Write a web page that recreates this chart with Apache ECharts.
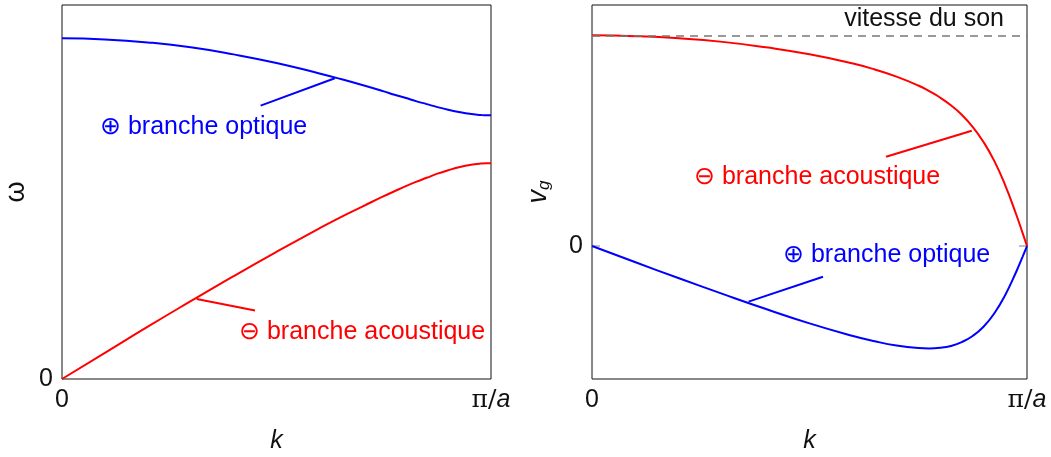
<!DOCTYPE html>
<html>
<head>
<meta charset="utf-8">
<script src="https://cdn.jsdelivr.net/npm/echarts@6/dist/echarts.min.js"></script>
<style>
  html, body { margin: 0; padding: 0; background: #fff; }
  #chart { width: 1051px; height: 457px; }
</style>
</head>
<body>
<div id="chart"></div>
<script>
// k en fraction de pi/a
const kVals = [0, 0.1, 0.2, 0.3, 0.4, 0.5, 0.6, 0.65, 0.7, 0.75, 0.775, 0.8, 0.825, 0.85, 0.875, 0.9, 0.925, 0.95, 0.975, 0.99, 1];
// pulsation (normalisée au haut du cadre)
const omegaOpt = [0.911, 0.908, 0.900, 0.887, 0.868, 0.845, 0.817, 0.802, 0.786, 0.769, 0.760, 0.752, 0.743, 0.735, 0.727, 0.720, 0.714, 0.709, 0.706, 0.705, 0.705];
const omegaAc = [0, 0.070, 0.140, 0.208, 0.275, 0.340, 0.403, 0.433, 0.461, 0.489, 0.502, 0.515, 0.527, 0.538, 0.549, 0.558, 0.566, 0.572, 0.576, 0.577, 0.577];
// vitesse de groupe (normalisée à la vitesse du son)
const vgAc = [1, 0.996, 0.986, 0.969, 0.943, 0.910, 0.866, 0.838, 0.804, 0.762, 0.735, 0.705, 0.668, 0.623, 0.566, 0.494, 0.403, 0.288, 0.151, 0.061, 0];
const vgOpt = [0, -0.077, -0.153, -0.227, -0.299, -0.367, -0.427, -0.452, -0.472, -0.484, -0.486, -0.483, -0.474, -0.456, -0.427, -0.383, -0.319, -0.232, -0.123, -0.050, 0];
const soundSpeed = 1;

const FONT = '"Liberation Sans", Arial, sans-serif';
const BLUE = '#0000ff';
const RED = '#ff0000';
const FS = 25;

const pairs = (xs, ys) => xs.map((x, i) => [x, ys[i]]);

function leader(p, q, color) {
  return {
    symbol: 'none',
    silent: true,
    label: { show: false },
    lineStyle: { color: color, width: 2, type: 'solid' },
    data: [[{ coord: p }, { coord: q }]]
  };
}

const kLabel = {
  customValues: [0, 1],
  margin: 9,
  formatter: v => v === 0 ? '0' : '{p|π/}{a|a}',
  color: '#111',
  fontSize: FS,
  fontFamily: FONT,
  rich: {
    p: { fontSize: FS, fontFamily: '"DejaVu Serif", serif', color: '#111' },
    a: { fontSize: FS, fontStyle: 'italic', fontFamily: FONT, color: '#111' }
  }
};

const myChart = echarts.init(document.getElementById('chart'));
const option = {
  animation: false,
  grid: [
    { left: 62, top: 5, width: 429, height: 374, show: true, borderColor: '#111', borderWidth: 1, outerBoundsMode: 'none' },
    { left: 592, top: 5, width: 435, height: 374, show: true, borderColor: '#111', borderWidth: 1, outerBoundsMode: 'none' }
  ],
  xAxis: [
    {
      gridIndex: 0, type: 'value', min: 0, max: 1,
      name: 'k', nameLocation: 'middle', nameGap: 50,
      nameTextStyle: { fontSize: FS, fontStyle: 'italic', fontFamily: FONT, color: '#111' },
      axisLine: { show: false }, axisTick: { show: false }, splitLine: { show: false },
      axisLabel: kLabel
    },
    {
      gridIndex: 1, type: 'value', min: 0, max: 1,
      name: 'k', nameLocation: 'middle', nameGap: 50,
      nameTextStyle: { fontSize: FS, fontStyle: 'italic', fontFamily: FONT, color: '#111' },
      axisLine: { show: false }, axisTick: { show: false }, splitLine: { show: false },
      axisLabel: kLabel
    }
  ],
  yAxis: [
    {
      gridIndex: 0, type: 'value', min: 0, max: 1,
      name: 'ω', nameLocation: 'middle', nameGap: 32, nameRotate: 90,
      nameTextStyle: { fontSize: 27, fontFamily: FONT, color: '#111' },
      axisLine: { show: false }, axisTick: { show: false }, splitLine: { show: false },
      axisLabel: { customValues: [0], margin: 9, fontSize: FS, fontFamily: FONT, color: '#111' }
    },
    {
      gridIndex: 1, type: 'value', min: -0.631, max: 1.144,
      name: '{v|v}{g|g}', nameLocation: 'middle', nameGap: 39, nameRotate: 90,
      nameTextStyle: {
        color: '#111',
        rich: {
          v: { fontSize: 27, fontStyle: 'italic', fontFamily: FONT, color: '#111' },
          g: { fontSize: 17, fontStyle: 'italic', fontFamily: FONT, color: '#111', padding: [12, 0, 0, 0] }
        }
      },
      axisLine: { show: false }, splitLine: { show: false },
      axisTick: { show: true, inside: true, length: 8, customValues: [0], lineStyle: { color: '#aaa', width: 1.5 } },
      axisLabel: { customValues: [0], margin: 9, fontSize: FS, fontFamily: FONT, color: '#111' }
    },
    {
      gridIndex: 1, type: 'value', min: -0.631, max: 1.144, position: 'right',
      axisLine: { show: false }, splitLine: { show: false },
      axisTick: { show: true, inside: true, length: 8, customValues: [0], lineStyle: { color: '#aaa', width: 1.5 } },
      axisLabel: { show: false }
    }
  ],
  series: [
    {
      name: 'optique', type: 'line', xAxisIndex: 0, yAxisIndex: 0,
      data: pairs(kVals, omegaOpt), smooth: true, showSymbol: false,
      lineStyle: { color: BLUE, width: 2 },
      markLine: leader([0.463, 0.731], [0.636, 0.804], BLUE)
    },
    {
      name: 'acoustique', type: 'line', xAxisIndex: 0, yAxisIndex: 0,
      data: pairs(kVals, omegaAc), smooth: true, showSymbol: false,
      lineStyle: { color: RED, width: 2 },
      markLine: leader([0.314, 0.214], [0.450, 0.183], RED)
    },
    {
      name: 'vg acoustique', type: 'line', xAxisIndex: 1, yAxisIndex: 1,
      data: pairs(kVals, vgAc), smooth: true, showSymbol: false, z: 3,
      lineStyle: { color: RED, width: 2 },
      markLine: leader([0.676, 0.424], [0.873, 0.547], RED)
    },
    {
      name: 'vg optique', type: 'line', xAxisIndex: 1, yAxisIndex: 1,
      data: pairs(kVals, vgOpt), smooth: true, showSymbol: false,
      lineStyle: { color: BLUE, width: 2 },
      markLine: leader([0.360, -0.264], [0.531, -0.146], BLUE)
    },
    {
      // vitesse du son
      name: 'son', type: 'line', xAxisIndex: 1, yAxisIndex: 1, data: [], z: 2,
      markLine: {
        symbol: 'none', silent: true, label: { show: false },
        lineStyle: { color: '#777', width: 1.5, type: [8, 6] },
        data: [{ yAxis: soundSpeed }]
      }
    }
  ],
  graphic: [
    { type: 'text', x: 100, y: 127, style: { text: '⊕ branche optique', fill: BLUE, fontSize: FS, fontFamily: FONT, verticalAlign: 'middle' } },
    { type: 'text', x: 239, y: 332, style: { text: '⊖ branche acoustique', fill: RED, fontSize: FS, fontFamily: FONT, verticalAlign: 'middle' } },
    { type: 'text', x: 694, y: 177, style: { text: '⊖ branche acoustique', fill: RED, fontSize: FS, fontFamily: FONT, verticalAlign: 'middle' } },
    { type: 'text', x: 783, y: 255, style: { text: '⊕ branche optique', fill: BLUE, fontSize: FS, fontFamily: FONT, verticalAlign: 'middle' } },
    { type: 'text', x: 1004, y: 19, style: { text: 'vitesse du son', fill: '#111', fontSize: FS, fontFamily: FONT, align: 'right', verticalAlign: 'middle' } }
  ]
};
myChart.setOption(option);
</script>
</body>
</html>
